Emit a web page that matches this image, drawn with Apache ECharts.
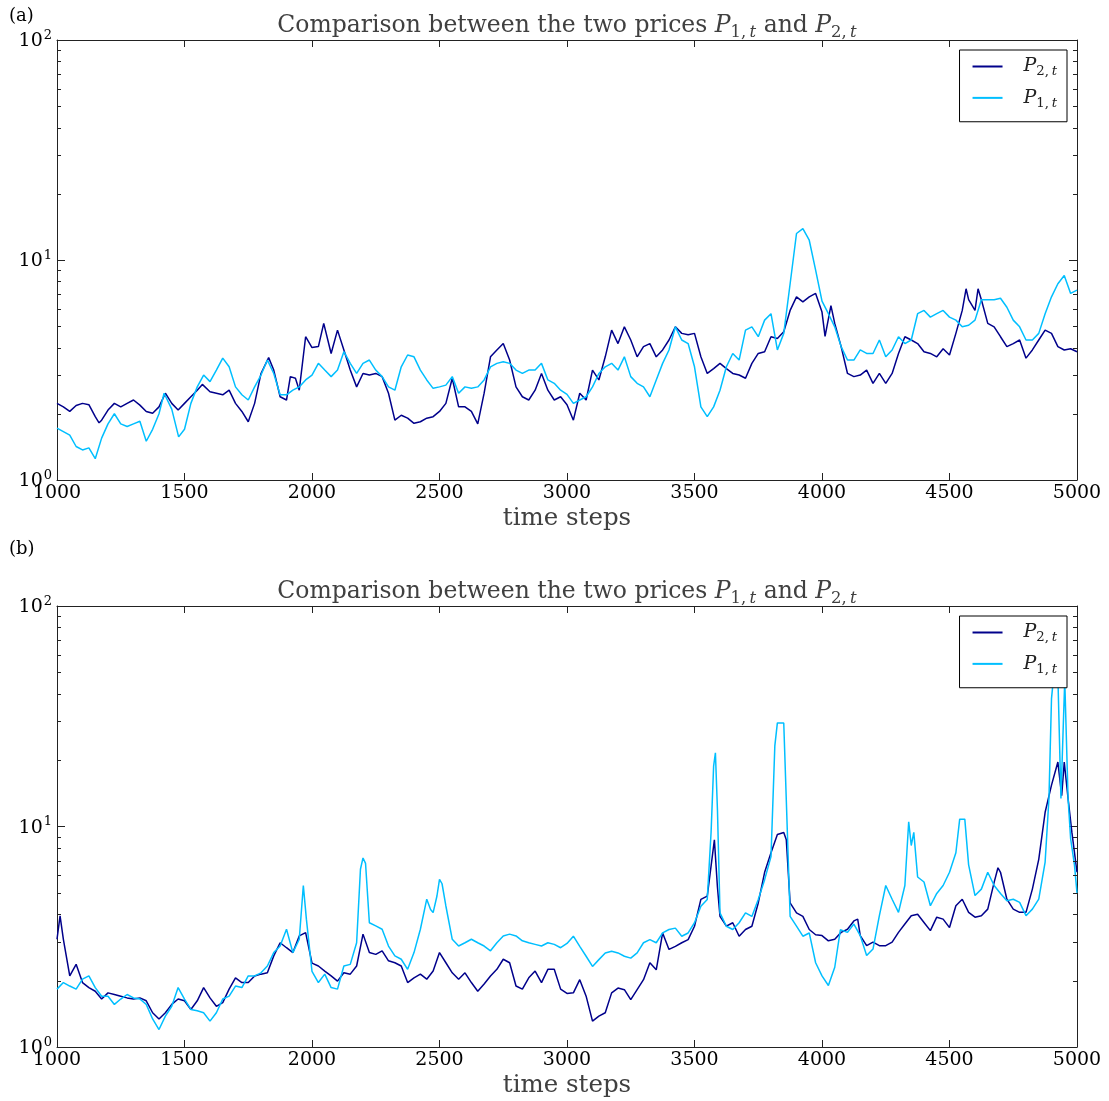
<!DOCTYPE html>
<html>
<head>
<meta charset="utf-8">
<title>Comparison between the two prices</title>
<script src="https://cdn.jsdelivr.net/npm/echarts@6/dist/echarts.min.js"></script>
<style>
  html, body { margin: 0; padding: 0; background: #fff; }
  #chart { width: 1109px; height: 1101px; }
</style>
</head>
<body>
<div id="chart"></div>
<script>
// ---- data: [time step, price] ----
const p2a = [[1000,2.23],[1025,2.15],[1050,2.05],[1075,2.18],[1100,2.23],[1125,2.2],[1150,1.94],[1165,1.82],[1175,1.87],[1200,2.08],[1225,2.23],[1250,2.15],[1275,2.23],[1300,2.31],[1325,2.19],[1350,2.05],[1375,2.01],[1400,2.15],[1425,2.48],[1450,2.23],[1475,2.08],[1500,2.23],[1525,2.39],[1550,2.56],[1570,2.72],[1600,2.52],[1625,2.48],[1650,2.44],[1675,2.56],[1700,2.23],[1725,2.05],[1750,1.84],[1775,2.23],[1800,3.05],[1830,3.6],[1850,3.16],[1875,2.39],[1900,2.31],[1915,2.95],[1935,2.9],[1950,2.56],[1975,4.48],[2000,4.0],
  [2025,4.04],[2046,5.15],[2075,3.76],[2100,4.8],[2125,3.9],[2150,3.16],[2175,2.65],[2200,3.05],[2225,3.0],[2250,3.05],[2275,2.95],[2300,2.48],[2325,1.87],[2350,1.97],[2375,1.91],[2400,1.81],[2425,1.84],[2450,1.91],[2475,1.94],[2500,2.05],[2525,2.23],[2550,2.9],[2575,2.15],[2600,2.15],[2625,2.05],[2650,1.8],[2675,2.48],[2700,3.63],[2725,3.9],[2750,4.17],[2775,3.51],[2800,2.65],[2825,2.39],[2850,2.31],[2875,2.56],[2900,3.05],[2925,2.56],[2950,2.31],[2975,2.39],[3000,2.2],
  [3025,1.87],[3050,2.48],[3075,2.31],[3100,3.16],[3125,2.85],[3150,3.63],[3175,4.8],[3200,4.17],[3225,4.97],[3250,4.33],[3275,3.63],[3300,4.04],[3325,4.17],[3350,3.63],[3375,3.9],[3400,4.33],[3425,4.97],[3450,4.64],[3475,4.57],[3500,4.64],[3525,3.63],[3550,3.05],[3575,3.21],[3600,3.39],[3625,3.21],[3650,3.05],[3675,3.0],[3700,2.9],[3725,3.39],[3750,3.76],[3775,3.83],[3800,4.48],[3825,4.4],[3850,4.72],[3875,5.9],[3900,6.8],[3925,6.45],[3950,6.8],[3975,7.05],[4000,5.8],
  [4012,4.5],[4035,6.2],[4050,5.15],[4075,4.04],[4100,3.05],[4125,2.95],[4150,3.0],[4175,3.16],[4200,2.75],[4225,3.05],[4250,2.75],[4275,3.05],[4300,3.76],[4325,4.48],[4350,4.33],[4375,4.17],[4400,3.83],[4425,3.76],[4450,3.63],[4475,3.95],[4500,3.7],[4525,4.64],[4550,5.9],[4565,7.4],[4575,6.6],[4600,5.9],[4612,7.4],[4625,6.6],[4650,5.15],[4675,4.97],[4700,4.48],[4725,4.04],[4750,4.17],[4775,4.33],[4800,3.58],[4825,3.9],[4850,4.33],[4875,4.8],[4900,4.64],[4925,4.04],[4950,3.9],[4975,3.95],[5000,3.83]];

const p1a = [[1000,1.72],[1025,1.66],[1050,1.6],[1075,1.42],[1100,1.37],[1125,1.4],[1150,1.25],[1175,1.55],[1200,1.8],[1225,2.0],[1250,1.8],[1275,1.75],[1300,1.8],[1325,1.85],[1350,1.5],[1375,1.7],[1400,2.0],[1420,2.48],[1450,2.1],[1477,1.57],[1500,1.7],[1525,2.23],[1550,2.65],[1575,3.0],[1600,2.8],[1625,3.16],[1650,3.58],[1675,3.27],[1700,2.65],[1725,2.44],[1750,2.31],[1775,2.65],[1800,3.0],[1825,3.51],[1850,3.05],[1875,2.44],[1900,2.44],[1925,2.56],[1950,2.65],[1975,2.85],[2000,3.0],
  [2025,3.39],[2050,3.16],[2075,2.95],[2100,3.16],[2125,3.83],[2150,3.39],[2175,3.05],[2200,3.39],[2225,3.51],[2250,3.16],[2275,2.95],[2300,2.65],[2325,2.56],[2350,3.27],[2375,3.7],[2400,3.63],[2425,3.16],[2450,2.85],[2475,2.61],[2500,2.65],[2525,2.7],[2550,2.95],[2575,2.48],[2600,2.65],[2625,2.61],[2650,2.65],[2675,2.85],[2700,3.27],[2725,3.39],[2750,3.45],[2775,3.39],[2800,3.16],[2825,3.05],[2850,3.16],[2875,3.16],[2900,3.39],[2925,2.85],[2950,2.75],[2975,2.56],[3000,2.45],
  [3025,2.23],[3050,2.31],[3075,2.39],[3100,2.65],[3125,3.05],[3150,3.27],[3175,3.39],[3200,3.16],[3225,3.63],[3250,2.95],[3275,2.75],[3300,2.65],[3325,2.39],[3350,2.85],[3375,3.39],[3400,3.9],[3425,4.97],[3450,4.33],[3475,4.17],[3500,3.27],[3525,2.15],[3550,1.94],[3575,2.15],[3600,2.56],[3625,3.27],[3650,3.76],[3675,3.51],[3700,4.8],[3725,4.97],[3750,4.48],[3775,5.33],[3800,5.7],[3825,3.9],[3850,4.64],[3875,7.8],[3900,13.2],[3925,13.9],[3950,12.3],[3975,9.0],[4000,6.5],
  [4025,5.7],[4050,4.97],[4075,4.04],[4100,3.51],[4125,3.51],[4150,3.9],[4175,3.76],[4200,3.76],[4225,4.33],[4250,3.63],[4275,3.9],[4300,4.48],[4325,4.17],[4350,4.33],[4375,5.7],[4400,5.9],[4425,5.5],[4450,5.7],[4475,5.9],[4500,5.5],[4525,5.33],[4550,4.97],[4575,5.05],[4600,5.33],[4625,6.6],[4650,6.6],[4675,6.6],[4700,6.7],[4725,6.1],[4750,5.33],[4775,4.97],[4800,4.33],[4825,4.33],[4850,4.64],[4875,5.7],[4900,6.8],[4925,7.8],[4950,8.5],[4975,7.05],[5000,7.3]];

const p2b = [[1000,3.08],[1012,3.93],[1025,3.08],[1050,2.1],[1075,2.37],[1100,1.96],[1125,1.86],[1150,1.79],[1175,1.65],[1200,1.76],[1225,1.73],[1250,1.7],[1275,1.67],[1300,1.65],[1325,1.67],[1350,1.62],[1375,1.43],[1400,1.34],[1425,1.43],[1450,1.56],[1475,1.65],[1500,1.62],[1525,1.48],[1550,1.62],[1575,1.86],[1600,1.67],[1625,1.53],[1650,1.59],[1675,1.83],[1700,2.06],[1725,1.96],[1750,1.96],[1775,2.1],[1800,2.14],[1825,2.17],[1850,2.59],[1875,2.97],[1900,2.82],[1925,2.68],[1950,3.19],[1975,3.3],[2000,2.4],
  [2025,2.33],[2050,2.21],[2075,2.1],[2100,1.99],[2125,2.17],[2150,2.14],[2175,2.33],[2200,3.25],[2225,2.68],[2250,2.63],[2275,2.73],[2300,2.46],[2325,2.41],[2350,2.33],[2375,1.96],[2400,2.06],[2425,2.14],[2450,2.03],[2475,2.21],[2500,2.68],[2525,2.41],[2550,2.17],[2575,2.03],[2600,2.17],[2625,1.96],[2650,1.79],[2675,1.93],[2700,2.1],[2725,2.25],[2750,2.5],[2775,2.41],[2800,1.89],[2825,1.83],[2850,2.06],[2875,2.21],[2900,1.96],[2925,2.25],[2950,2.25],[2975,1.83],[3000,1.75],
  [3025,1.76],[3050,2.02],[3075,1.7],[3100,1.31],[3125,1.38],[3150,1.43],[3175,1.76],[3200,1.85],[3225,1.82],[3250,1.64],[3275,1.82],[3300,2.02],[3325,2.41],[3350,2.24],[3375,3.29],[3400,2.77],[3425,2.86],[3450,2.97],[3475,3.07],[3500,3.53],[3525,4.67],[3550,4.83],[3578,8.7],[3590,5.3],[3600,3.91],[3625,3.53],[3650,3.66],[3675,3.18],[3700,3.41],[3725,3.53],[3750,4.5],[3775,6.2],[3800,7.6],[3825,9.2],[3850,9.4],[3860,8.7],[3875,4.5],[3900,4.06],[3925,3.91],[3950,3.41],[3975,3.23],[4000,3.2],
  [4025,3.03],[4050,3.08],[4075,3.31],[4100,3.42],[4125,3.73],[4140,3.8],[4150,3.2],[4175,2.88],[4200,2.99],[4225,2.88],[4250,2.88],[4275,2.99],[4300,3.31],[4325,3.61],[4350,3.94],[4375,4.0],[4400,3.67],[4425,3.37],[4450,3.88],[4475,3.8],[4500,3.48],[4525,4.37],[4550,4.68],[4575,4.08],[4600,3.88],[4625,3.94],[4650,4.22],[4675,5.58],[4690,6.5],[4700,6.2],[4725,4.68],[4750,4.22],[4775,4.08],[4800,4.08],[4825,5.2],[4850,7.1],[4875,11.6],[4900,15.4],[4925,19.6],[4940,13.8],[4950,19.6],[4965,13.4],[4980,9.4],[5000,6.2]];

const p1b = [[1000,1.83],[1025,1.96],[1050,1.89],[1075,1.83],[1100,2.03],[1125,2.1],[1150,1.86],[1175,1.7],[1200,1.7],[1225,1.56],[1250,1.65],[1275,1.73],[1300,1.67],[1325,1.65],[1350,1.56],[1375,1.34],[1400,1.2],[1425,1.38],[1450,1.53],[1475,1.86],[1500,1.65],[1525,1.48],[1550,1.46],[1575,1.43],[1600,1.31],[1625,1.43],[1650,1.65],[1675,1.7],[1700,1.89],[1725,1.86],[1750,2.1],[1775,2.1],[1800,2.17],[1825,2.33],[1850,2.68],[1875,2.87],[1900,3.42],[1925,2.68],[1950,3.08],[1966,5.4],[1978,3.8],[2000,2.2],
  [2025,1.96],[2050,2.14],[2075,1.86],[2100,1.83],[2125,2.33],[2150,2.37],[2175,2.97],[2190,6.4],[2200,7.2],[2210,6.8],[2225,3.66],[2250,3.54],[2275,3.42],[2300,2.87],[2325,2.59],[2350,2.5],[2375,2.25],[2400,2.68],[2425,3.42],[2450,4.68],[2465,4.2],[2475,4.07],[2490,4.84],[2500,5.76],[2510,5.5],[2525,4.36],[2550,3.08],[2575,2.87],[2600,2.97],[2625,3.08],[2650,2.97],[2675,2.87],[2700,2.73],[2725,2.97],[2750,3.19],[2775,3.25],[2800,3.19],[2825,3.03],[2850,2.97],[2875,2.92],[2900,2.87],[2925,2.97],[2950,2.92],[2975,2.82],[3000,2.95],
  [3025,3.18],[3050,2.86],[3075,2.58],[3100,2.32],[3125,2.49],[3150,2.67],[3175,2.72],[3200,2.67],[3225,2.58],[3250,2.53],[3275,2.67],[3300,2.97],[3325,3.07],[3350,2.97],[3375,3.29],[3400,3.41],[3425,3.46],[3450,3.18],[3475,3.29],[3500,3.66],[3525,4.35],[3550,4.67],[3565,9.4],[3575,18.8],[3582,21.6],[3590,11.9],[3600,4.06],[3625,3.53],[3650,3.41],[3675,3.66],[3700,4.06],[3725,3.91],[3750,4.67],[3775,5.74],[3800,7.3],[3815,23.2],[3825,29.5],[3850,29.5],[3860,13.2],[3875,3.91],[3900,3.53],[3925,3.18],[3950,3.29],[3975,2.41],[4000,2.1],
  [4025,1.9],[4050,2.3],[4072,3.4],[4100,3.31],[4125,3.61],[4150,3.2],[4175,2.6],[4200,2.78],[4225,3.94],[4250,5.4],[4275,4.68],[4300,4.08],[4325,5.4],[4340,10.5],[4350,8.2],[4360,9.4],[4375,5.9],[4400,5.6],[4425,4.37],[4450,4.97],[4475,5.4],[4500,6.2],[4525,7.6],[4540,10.8],[4560,10.8],[4575,6.7],[4600,4.86],[4625,5.2],[4650,6.2],[4675,5.4],[4700,4.97],[4725,4.61],[4750,4.68],[4775,4.53],[4800,3.94],[4825,4.22],[4850,4.68],[4875,6.9],[4890,13.4],[4900,38],[4910,50],[4925,48],[4937,13.4],[4945,26],[4952,46],[4965,13.4],[4975,8.8],[4990,6.7],[5000,5.0]];

// axis ranges and log minor tick values
const X_MIN = 1000, X_MAX = 5000, X_STEP = 500;
const Y_MIN = 1, Y_MAX = 100;
const minorY = [2, 3, 4, 5, 6, 7, 8, 9, 20, 30, 40, 50, 60, 70, 80, 90];

const SERIF = '"DejaVu Serif", serif';
const FRAME = '#222';
const C_P2 = '#00008B';   // darkblue
const C_P1 = '#00BFFF';   // deepskyblue

// math-style rich text pieces
function mathRich(size, color) {
  return {
    it:    { fontFamily: SERIF, fontStyle: 'italic', fontSize: size, color: color, lineHeight: size * 1.25, verticalAlign: 'middle' },
    sub:   { fontFamily: SERIF, fontSize: size * 0.7, color: color, lineHeight: size * 0.75, verticalAlign: 'bottom' },
    subit: { fontFamily: SERIF, fontStyle: 'italic', fontSize: size * 0.7, color: color, lineHeight: size * 0.75, verticalAlign: 'bottom' }
  };
}
const priceLabel = i => '{it|P}{sub|' + i + ',\u2009}{subit|t}';

const grids = [
  { left: 57, top: 40, width: 1020, height: 440 },
  { left: 57, top: 606, width: 1020, height: 441 }
];

const xAxes = [], yAxes = [], series = [], titles = [], legends = [];
const panels = [
  { tag: '(a)', tagTop: 7, p2: p2a, p1: p1a },
  { tag: '(b)', tagTop: 540, p2: p2b, p1: p1b }
];

panels.forEach((pan, g) => {
  const grid = grids[g];
  const bx = xAxes.length, by = yAxes.length;
  // bottom and top x axes (frame + inward ticks)
  xAxes.push({
    type: 'value', gridIndex: g, min: X_MIN, max: X_MAX, interval: X_STEP, position: 'bottom',
    axisLine: { show: true, lineStyle: { color: FRAME, width: 1 } },
    axisTick: { show: true, inside: true, length: 7, lineStyle: { color: FRAME } },
    splitLine: { show: false },
    axisLabel: { show: true, color: '#000', fontFamily: SERIF, fontSize: 19, margin: 4, formatter: v => String(v) },
    name: 'time steps', nameLocation: 'middle', nameGap: 26,
    nameTextStyle: { color: '#404040', fontFamily: SERIF, fontSize: 24.5 }
  });
  xAxes.push({
    type: 'value', gridIndex: g, min: X_MIN, max: X_MAX, interval: X_STEP, position: 'top',
    axisLine: { show: true, lineStyle: { color: FRAME, width: 1 } },
    axisTick: { show: true, inside: true, length: 7, lineStyle: { color: FRAME } },
    splitLine: { show: false }, axisLabel: { show: false }
  });
  // left and right log y axes
  yAxes.push({
    type: 'log', logBase: 10, gridIndex: g, min: Y_MIN, max: Y_MAX, position: 'left',
    axisLine: { show: true, lineStyle: { color: FRAME, width: 1 } },
    axisTick: { show: true, inside: true, length: 8, lineStyle: { color: FRAME } },
    splitLine: { show: false },
    axisLabel: {
      show: true, margin: 5,
      formatter: v => '{b|10}{e|' + Math.round(Math.log10(v)) + '}',
      rich: {
        b: { fontFamily: SERIF, fontSize: 19, color: '#000', lineHeight: 22, verticalAlign: 'bottom' },
        e: { fontFamily: SERIF, fontSize: 13, color: '#000', lineHeight: 22, verticalAlign: 'top', padding: [0, 0, 8, 1] }
      }
    }
  });
  yAxes.push({
    type: 'log', logBase: 10, gridIndex: g, min: Y_MIN, max: Y_MAX, position: 'right',
    axisLine: { show: true, lineStyle: { color: FRAME, width: 1 } },
    axisTick: { show: true, inside: true, length: 8, lineStyle: { color: FRAME } },
    splitLine: { show: false }, axisLabel: { show: false }
  });

  series.push({
    name: 'P2', type: 'line', xAxisIndex: bx, yAxisIndex: by, data: pan.p2,
    showSymbol: false, symbol: 'none', lineStyle: { color: C_P2, width: 1.5 }, itemStyle: { color: C_P2 },
    z: 2
  });
  series.push({
    name: 'P1', type: 'line', xAxisIndex: bx, yAxisIndex: by, data: pan.p1,
    showSymbol: false, symbol: 'none', lineStyle: { color: C_P1, width: 1.5 }, itemStyle: { color: C_P1 },
    z: 3
  });
  // log minor ticks on the left and right frame edges
  series.push({
    type: 'custom', xAxisIndex: bx, yAxisIndex: by, silent: true, clip: false, z: 5,
    data: minorY.map(v => [X_MIN, v]),
    renderItem: (params, api) => {
      const v = api.value(1);
      const l = api.coord([X_MIN, v]);
      const r = api.coord([X_MAX, v]);
      const y = Math.round(l[1]) + 0.5;
      return {
        type: 'group',
        children: [
          { type: 'line', shape: { x1: l[0], y1: y, x2: l[0] + 4, y2: y }, style: { stroke: FRAME, lineWidth: 1 } },
          { type: 'line', shape: { x1: r[0], y1: y, x2: r[0] - 4, y2: y }, style: { stroke: FRAME, lineWidth: 1 } }
        ]
      };
    }
  });

  titles.push({
    text: 'Comparison between the two prices ' + priceLabel(1) + ' and ' + priceLabel(2),
    left: grid.left + grid.width / 2, top: grid.top - 29, textAlign: 'center', padding: 0,
    textStyle: { fontFamily: SERIF, fontSize: 23.5, fontWeight: 'normal', color: '#404040', rich: mathRich(23.5, '#404040') }
  });
  titles.push({
    text: pan.tag, left: 9, top: pan.tagTop, padding: 0,
    textStyle: { fontFamily: SERIF, fontSize: 18, fontWeight: 'normal', color: '#000' }
  });

  legends.push({
    data: ['P2', 'P1'], orient: 'vertical',
    right: 1109 - 1067, top: grid.top + 10,
    backgroundColor: '#fff', borderColor: '#000', borderWidth: 1, borderRadius: 0,
    padding: [7, 10, 12, 13], itemGap: 10, itemWidth: 30, itemHeight: 2, icon: 'rect',
    selectedMode: false,
    formatter: name => name === 'P2' ? priceLabel(2) : priceLabel(1),
    textStyle: { rich: (() => { const r = mathRich(19, '#222'); r.it.padding = [0, 0, 0, 16]; return r; })() },
    z: 10
  });
});

const chart = echarts.init(document.getElementById('chart'));
chart.setOption({
  animation: false,
  backgroundColor: '#fff',
  title: titles,
  legend: legends,
  grid: grids,
  xAxis: xAxes,
  yAxis: yAxes,
  series: series
});
</script>
</body>
</html>
